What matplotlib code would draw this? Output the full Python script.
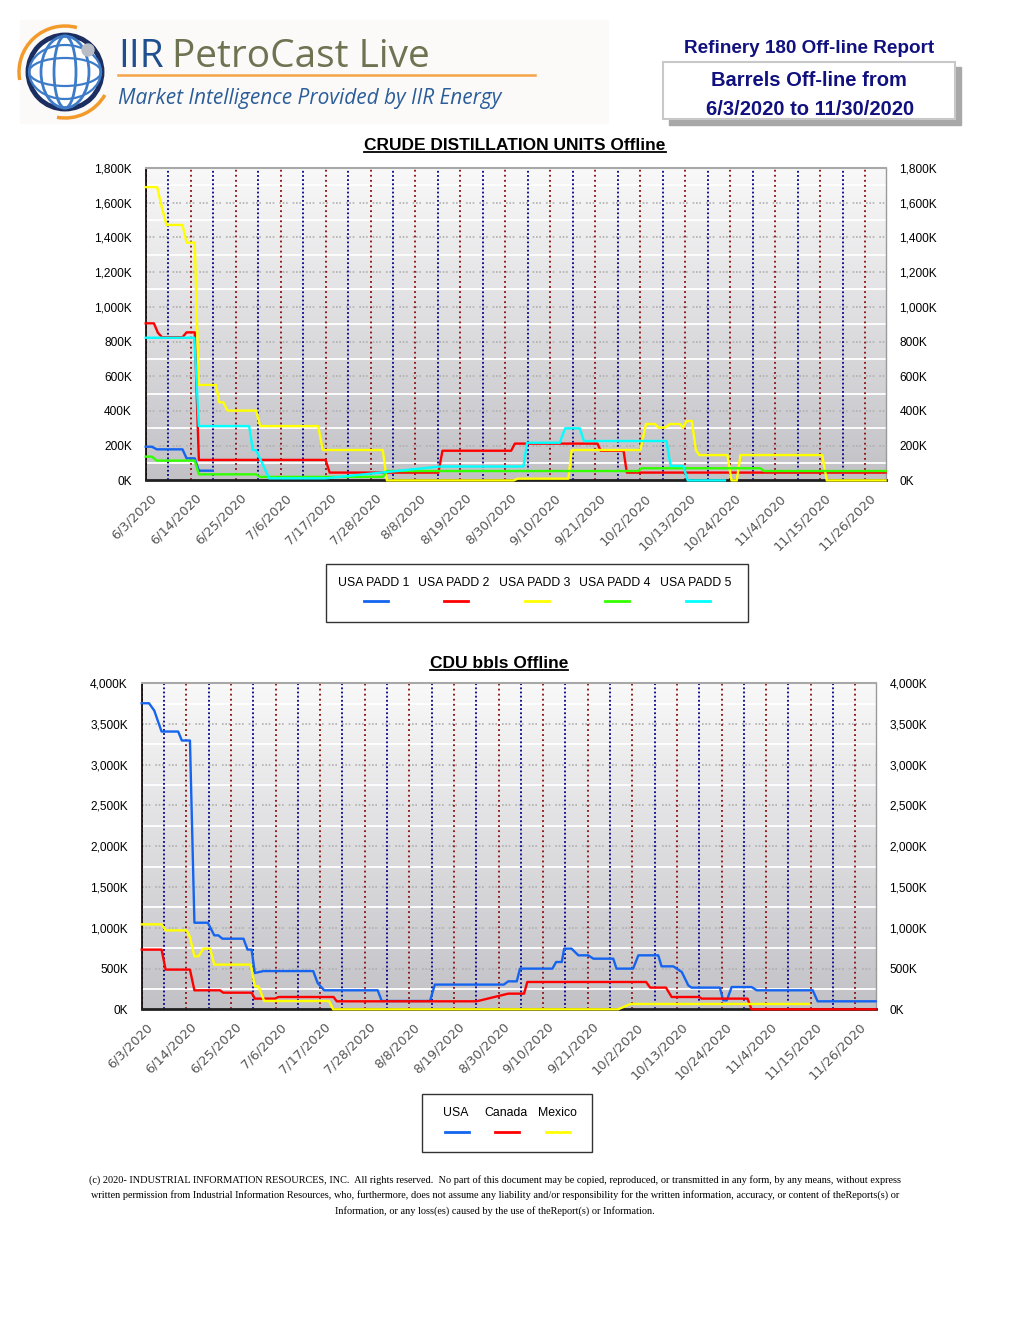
import numpy as np
import matplotlib
matplotlib.use('Agg')
import matplotlib.pyplot as plt
import matplotlib.transforms as mtransforms
from matplotlib.colors import LinearSegmentedColormap
from matplotlib.patches import Rectangle, Circle, Ellipse, Arc

plt.rcParams['font.family'] = ['Liberation Sans', 'DejaVu Sans']

W, H = 1020, 1320

# x = days after 6/3/2020
tick_days = [0, 11, 22, 33, 44, 55, 66, 77, 88, 99, 110, 121, 132, 143, 154, 165, 176]
tick_labels = ['6/3/2020', '6/14/2020', '6/25/2020', '7/6/2020', '7/17/2020', '7/28/2020',
               '8/8/2020', '8/19/2020', '8/30/2020', '9/10/2020', '9/21/2020', '10/2/2020',
               '10/13/2020', '10/24/2020', '11/4/2020', '11/15/2020', '11/26/2020']

# CRUDE DISTILLATION UNITS Offline (K bbl)
padd1_days = [0, 1.5, 2.7, 9, 10, 12, 13, 16.4]
padd1_vals = [194, 194, 179, 179, 127, 127, 56, 56]

padd2_days = [0, 2, 3, 4, 9, 10, 12, 13, 44, 45, 71.6, 72.6, 89.4, 90.3, 110.5, 111.3,
              116.9, 117.7, 181]
padd2_vals = [905, 905, 850, 825, 825, 853, 853, 118, 118, 45, 45, 171, 171, 212, 212, 171,
              171, 45, 45]

padd3_days = [0, 2.8, 3.9, 5.1, 9, 10, 12, 13, 17.2, 18, 19, 20, 27, 28, 42.2, 43.3, 58, 59,
              90, 91, 103.4, 104.2, 121, 122.4, 124.6, 125.4, 127, 128.3, 130.7, 131.4, 132.3,
              133.6, 134.6, 135.4, 142.3, 143.3, 144.6, 145.5, 165.5, 166.6, 181]
padd3_vals = [1690, 1690, 1577, 1472, 1472, 1370, 1370, 550, 550, 450, 450, 402, 402, 313, 313,
              175, 175, 0, 0, 10, 10, 175, 175, 325, 325, 304, 304, 325, 325, 304, 342, 342,
              175, 146, 146, 0, 0, 146, 146, 0, 0]

padd4_days = [0, 1.5, 2.7, 12, 13, 27, 28, 58, 59, 120.5, 121.3, 150.3, 151.3, 181]
padd4_vals = [137, 137, 114, 114, 35, 35, 20, 20, 54, 54, 70, 70, 54, 54]

padd5_days = [0, 11.9, 13, 25.3, 26.2, 27, 30.2, 44, 72, 92.4, 93.3, 101.3, 102.6, 106.2,
              107.2, 127.4, 128.4, 131.5, 132.6, 141.7]
padd5_vals = [822, 822, 313, 313, 175, 175, 12, 12, 80, 80, 217, 217, 300, 300, 227, 227, 83,
              83, 0, 0]

# CDU bbls Offline (K bbl)
usa_days = [0, 1.8, 3.1, 4.9, 9, 9.9, 11.9, 13, 16.3, 17.9, 18.9, 19.9, 25.1, 26.1, 27.1,
            27.9, 30, 42.3, 43.4, 45, 58.2, 59.2, 71.1, 72.3, 89.3, 90.4, 92.5, 93.3, 101.3,
            102.2, 103.6, 104.2, 106, 107.7, 110.1, 111.4, 116.3, 117.1, 121.2, 122.5, 127.4,
            128.2, 131.1, 133.2, 134.8, 135.6, 142.6, 143.4, 144.3, 145.5, 150.4, 151.7, 165.5,
            166.7, 181]
usa_vals = [3754, 3754, 3664, 3407, 3407, 3297, 3297, 1062, 1062, 907, 907, 866, 866, 732, 732,
            445, 469, 469, 322, 233, 233, 102, 102, 303, 303, 343, 343, 499, 499, 580, 580, 744,
            744, 662, 662, 621, 621, 499, 499, 662, 662, 527, 527, 457, 294, 266, 266, 110, 110,
            273, 273, 233, 233, 98, 98]

canada_days = [0, 4.9, 5.9, 11.9, 13, 19.3, 20.1, 27.1, 27.9, 32.9, 33.7, 47.3, 48.1, 82.6,
               90.4, 94.3, 95.1, 124.4, 125.4, 129.3, 130.7, 137.5, 138.1, 149.4, 150.4, 181]
canada_vals = [732, 732, 487, 487, 233, 233, 204, 204, 131, 131, 151, 151, 98, 98, 192, 192,
               335, 335, 266, 266, 151, 151, 131, 131, 0, 0]

mexico_days = [0, 4.9, 5.9, 11.1, 11.9, 13, 14, 15.2, 16.9, 17.9, 26.9, 27.9, 28.8, 30.2, 46.2,
               47.2, 117.5, 120.5, 164.6]
mexico_vals = [1042, 1042, 968, 968, 886, 650, 650, 744, 744, 548, 548, 282, 282, 102, 102, 0,
               0, 65, 65]

padd_labels = ['USA PADD 1', 'USA PADD 2', 'USA PADD 3', 'USA PADD 4', 'USA PADD 5']
padd_colors = ['#1464f0', '#ff0000', '#ffff00', '#33ff00', '#00ffff']
cdu_labels = ['USA', 'Canada', 'Mexico']
cdu_colors = ['#1464f0', '#ff0000', '#ffff00']

bg_cmap = LinearSegmentedColormap.from_list('bg', ['#f9f9f9', '#c2c1c6'])


def px_box(x0, y0, x1, y1):
    return [x0 / W, 1 - y1 / H, (x1 - x0) / W, (y1 - y0) / H]


def draw_chart(ax, series, colors, ymax, ystep):
    ax.imshow(np.linspace(0, 1, 256).reshape(-1, 1), cmap=bg_cmap, aspect='auto',
              extent=[0, 181, 0, ymax], zorder=0)
    for v in np.arange(ystep / 2, ymax, ystep):
        ax.axhline(v, color='white', lw=1.3, zorder=1)
    for v in np.arange(ystep, ymax, ystep):
        ax.axhline(v, color='#b0b0b0', lw=1.2, ls=(0, (1, 1, 1, 1, 1, 3)), zorder=1)
    for d in tick_days:
        ax.axvline(d, color='#8b0a0a', lw=1.3, ls=(0, (1, 1.8)), zorder=2)
    for d in np.array(tick_days[:-1]) + 5.5:
        ax.axvline(d, color='#00008b', lw=1.3, ls=(0, (1, 1.3)), zorder=2)
    for (days, vals), c in zip(series, colors):
        ax.plot(days, vals, color=c, lw=1.7, zorder=3, clip_on=False)

    ax.set_xlim(0, 181)
    ax.set_ylim(0, ymax)
    yt = np.arange(0, ymax + 1, ystep)
    ax.set_yticks(yt)
    ax.set_yticklabels([f'{int(v):,}K' for v in yt])
    ax.tick_params(axis='y', length=0, pad=10, labelsize=8.6, labelright=True)
    ax.set_xticks(tick_days)
    ax.set_xticklabels(tick_labels, rotation=45, ha='right', rotation_mode='anchor',
                       color='#555555', fontsize=9.3, family='DejaVu Sans')
    ax.tick_params(axis='x', length=0, pad=8)
    shift = mtransforms.ScaledTranslation(4 / 100, 0, ax.figure.dpi_scale_trans)
    for lbl in ax.get_xticklabels():
        lbl.set_transform(lbl.get_transform() + shift)
    ax.spines['left'].set_color('black')
    ax.spines['left'].set_linewidth(1.2)
    ax.spines['bottom'].set_color('#202020')
    ax.spines['bottom'].set_linewidth(2)
    ax.spines['top'].set_color('#a8a8a8')
    ax.spines['top'].set_linewidth(1.5)
    ax.spines['right'].set_color('#9a9a9a')
    ax.spines['right'].set_linewidth(1)


fig = plt.figure(figsize=(W / 100, H / 100), dpi=100)
ov = fig.add_axes([0, 0, 1, 1], zorder=0)
ov.set_xlim(0, W)
ov.set_ylim(H, 0)
ov.axis('off')

# header: logo
ov.add_patch(Rectangle((20, 20), 588, 103, color='#fbfaf8', zorder=0))
ov.add_patch(Circle((65, 72), 37, facecolor='white', edgecolor='#1c2d5f', lw=3.5, zorder=2))
for w in (22, 48):
    ov.add_patch(Ellipse((65, 72), w, 72, fill=False, edgecolor='#3d7cc9', lw=2, zorder=3))
for h in (28, 54):
    ov.add_patch(Ellipse((65, 72), 72, h, fill=False, edgecolor='#3d7cc9', lw=1.6, zorder=3))
ov.add_patch(Circle((88, 50), 6, color='#b8bcc4', zorder=4))
ov.add_patch(Arc((65, 72), 92, 92, theta1=170, theta2=285, color='#f39a2b', lw=2.5, zorder=2))
ov.add_patch(Arc((65, 72), 92, 92, theta1=30, theta2=100, color='#f39a2b', lw=2.5, zorder=2))
ov.text(118, 67, 'IIR', color='#1f4f8f', fontsize=28, family='Open Sans', va='baseline')
ov.text(172, 67, 'PetroCast Live', color='#6f7352', fontsize=28, family='Open Sans',
        va='baseline')
ov.plot([118, 535], [75, 75], color='#f5a347', lw=1.8)
ov.text(118, 104, 'Market Intelligence Provided by IIR Energy', color='#2b5d99',
        fontsize=15, family='Open Sans', style='italic', va='baseline')

# header: report box
navy = '#10107e'
ov.add_patch(Rectangle((669, 67), 292, 58, color='#a8a8a8', zorder=1))
ov.add_patch(Rectangle((663, 62), 292, 57, facecolor='white', edgecolor='#c8c8c8', lw=1.5,
                       zorder=2))
ov.text(809, 53, 'Refinery 180 Off-line Report', color=navy, fontsize=13.6, weight='bold',
        ha='center', va='baseline')
ov.text(809, 86, 'Barrels Off-line from', color=navy, fontsize=14.5, weight='bold',
        ha='center', va='baseline', zorder=3)
ov.text(810, 115, '6/3/2020 to 11/30/2020', color=navy, fontsize=14.5, weight='bold',
        ha='center', va='baseline', zorder=3)

# chart titles
t1 = ov.text(515, 150, 'CRUDE DISTILLATION UNITS Offline', fontsize=12.5, weight='bold',
             ha='center', va='baseline')
t2 = ov.text(499, 668, 'CDU bbls Offline', fontsize=12.5, weight='bold', ha='center',
             va='baseline')

ax1 = fig.add_axes(px_box(145.7, 168, 885.6, 480.4), zorder=1)
draw_chart(ax1, [(padd1_days, padd1_vals), (padd2_days, padd2_vals), (padd3_days, padd3_vals),
                 (padd4_days, padd4_vals), (padd5_days, padd5_vals)],
           padd_colors, 1800, 200)

ax2 = fig.add_axes(px_box(141.7, 683.2, 875.6, 1009.3), zorder=1)
draw_chart(ax2, [(usa_days, usa_vals), (canada_days, canada_vals),
                 (mexico_days, mexico_vals)],
           cdu_colors, 4000, 500)

# legends
ov.add_patch(Rectangle((326, 564), 422, 58, fill=False, edgecolor='#333333', lw=1))
for cx, lab, c in zip([376, 456, 537, 617, 698], padd_labels, padd_colors):
    ov.text(cx - 2, 583, lab, fontsize=8.8, ha='center', va='center')
    ov.plot([cx - 12, cx + 12], [601, 601], color=c, lw=2)

ov.add_patch(Rectangle((422.5, 1094), 170, 58, fill=False, edgecolor='#333333', lw=1))
for cx, lab, c in zip([457, 507, 558], cdu_labels, cdu_colors):
    ov.text(cx - 1, 1113, lab, fontsize=8.8, ha='center', va='center')
    ov.plot([cx - 12, cx + 12], [1132, 1132], color=c, lw=2)

# footer
footer = [
    '(c) 2020- INDUSTRIAL INFORMATION RESOURCES, INC.  All rights reserved.  No part of this '
    'document may be copied, reproduced, or transmitted in any form, by any means, without express',
    'written permission from Industrial Information Resources, who, furthermore, does not assume '
    'any liability and/or responsibility for the written information, accuracy, or content of '
    'theReports(s) or',
    'Information, or any loss(es) caused by the use of theReport(s) or Information.',
]
for i, line in enumerate(footer):
    ov.text(495, 1180 + i * 15.5, line, fontsize=7.35, family='Liberation Serif', ha='center',
            va='center')

# underline titles
fig.canvas.draw()
inv = ov.transData.inverted()
for t in (t1, t2):
    bb = t.get_window_extent().transformed(inv)
    yb = max(bb.y0, bb.y1) - 1.5
    ov.plot([bb.x0, bb.x1], [yb, yb], color='black', lw=1.3)

fig.savefig('out.png', dpi=100)
